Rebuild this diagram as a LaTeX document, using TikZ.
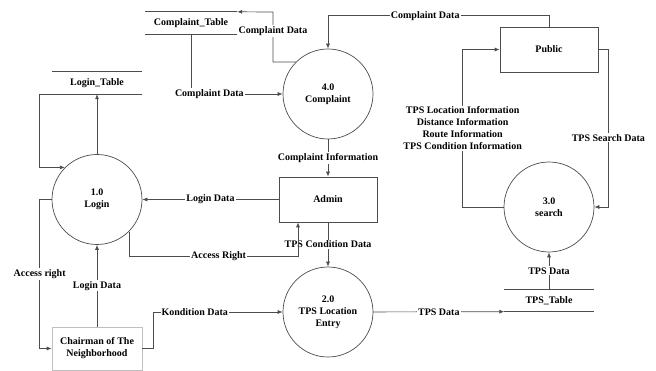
\documentclass[tikz,border=0pt]{standalone}
\usepackage{fontspec}
\setmainfont{Liberation Serif}
\usetikzlibrary{arrows.meta, positioning}

\begin{document}
\begin{tikzpicture}[
    x=1pt, y=-1pt,
    font=\fontsize{10}{12}\selectfont\bfseries,
    process/.style={circle, draw=black!70, line width=0.7pt, minimum size=90pt, inner sep=0pt, align=center},
    entity/.style={rectangle, draw=black!70, line width=0.7pt, minimum width=98pt, minimum height=45pt, align=center},
    store/.style={rectangle, minimum width=90pt, minimum height=22pt, inner sep=0pt},
    flow/.style={draw=black!70, line width=0.7pt, -{Latex[length=5pt,width=4pt]}},
    lbl/.style={fill=white, inner sep=1pt, align=center}
]
    \useasboundingbox (0,0) rectangle (656,371);

    % data stores
    \node (ct) [store, minimum width=92pt] at (191,23) {Complaint\_Table};
    \node (lt) [store] at (97,83) {Login\_Table};
    \node (ts) [store, minimum width=89pt] at (549,300.5) {TPS\_Table};
    \draw [black!70, line width=0.7pt] (ct.north west) -- (ct.north east) (ct.south west) -- (ct.south east);
    \draw [black!70, line width=0.7pt] (lt.north west) -- (lt.north east) (lt.south west) -- (lt.south east);
    \draw [black!70, line width=0.7pt] (ts.north west) -- (ts.north east) (ts.south west) -- (ts.south east);

    % processes and entities
    \node (c1) [process] at (97,199.5) {1.0\\Login};
    \node (c4) [process] at (328,94) {4.0\\Complaint};
    \node (c2) [process] at (328,312) {2.0\\TPS Location\\Entry};
    \node (c3) [process] at (549,207) {3.0\\search};
    \node (ad) [entity] at (328,199.5) {Admin};
    \node (pb) [entity] at (549,49.5) {Public};
    \node (ch) [entity, draw=black!25, minimum width=90pt, minimum height=43pt] at (97,348.5) {Chairman of The\\Neighborhood};

    \coordinate (k1) at (273,12);
    \coordinate (k2) at (298,256);

    % flows
    \draw [flow] (c4.135) -| node[lbl, pos=0.81] {Complaint Data} (k1) -- (ct.north east);
    \draw [flow] (ct.south) |- node[lbl, pos=0.6] {Complaint Data} (c4.west);
    \draw [flow] (pb.north) -- ++(0,-11) -| node[lbl, pos=0.28] {Complaint Data} (c4.north);
    \draw [flow] (c4) -- node[lbl] {Complaint Information} (ad);
    \draw [flow] (ad) -- node[lbl] {Login Data} (c1);
    \draw [flow] (ad) -- node[lbl] {TPS Condition Data} (c2);
    \draw [flow] (c1) -- (lt);
    \draw [flow] (lt.south west) -- ++(-12,0) |- (c1.135);
    \draw [flow] (c1.west) -- ++(-12,0) |- node[lbl, pos=0.25] {Access right} (ch.west);
    \draw [flow] (c1.-45) |- node[lbl, pos=0.765] {Access Right} (k2) -- (k2 |- ad.south);
    \draw [flow] (ch) -- node[lbl] {Login Data} (c1);
    \draw [flow] (ch.east) -- ++(11,0) |- node[lbl, pos=0.66] {Kondition Data} (c2.west);
    \draw [flow] (c2) -- node[lbl] {TPS Data} (ts.south west);
    \draw [flow] (ts) -- node[lbl] {TPS Data} (c3);
    \draw [flow] (pb.east) -- ++(10,0) |- node[lbl, pos=0.28] {TPS Search Data} (c3.east);
    \draw [flow] (c3.west) -- ++(-41,0) |- node[lbl, pos=0.25] {TPS Location Information\\Distance Information\\Route Information\\TPS Condition Information} (pb.west);
\end{tikzpicture}
\end{document}
